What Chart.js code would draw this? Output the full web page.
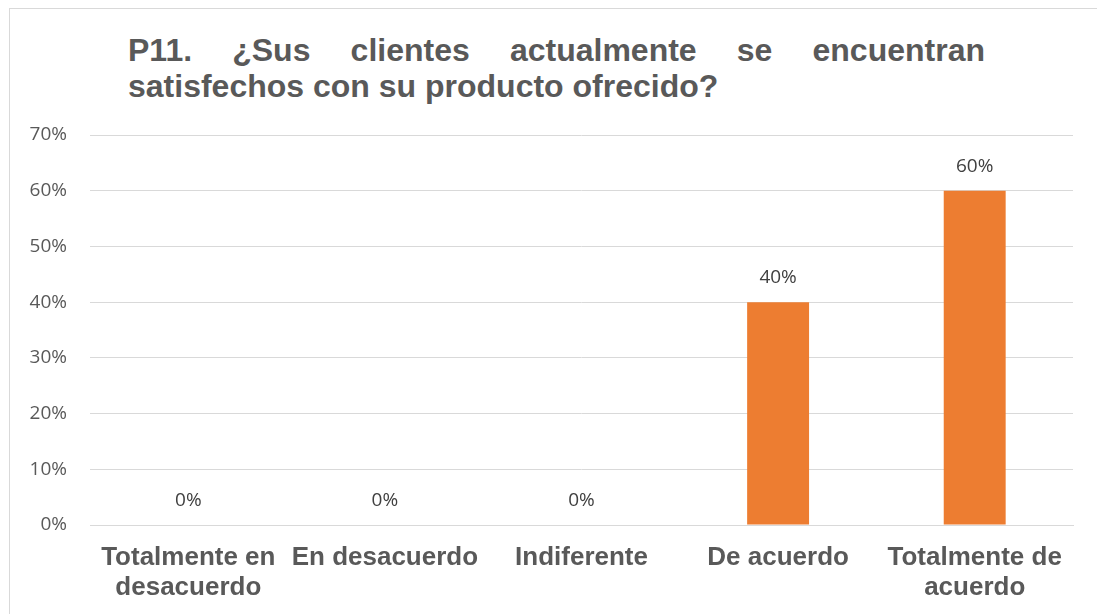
<!DOCTYPE html>
<html>
<head>
<meta charset="utf-8">
<script src="https://cdn.jsdelivr.net/npm/chart.js@4"></script>
<style>
  html, body { margin: 0; padding: 0; background: #fff; }
  #wrap { position: relative; width: 1097px; height: 614px; overflow: hidden; }
  #frame { position: absolute; left: 9px; top: 8px; width: 1200px; height: 700px; border: 1px solid #d9d9d9; box-sizing: border-box; }
  #title {
    position: absolute; left: 128px; top: 32px; width: 857px;
    font: bold 32px "Liberation Sans", Arial, sans-serif; line-height: 36px;
    color: #595959; text-align: justify; text-align-last: left;
  }
  canvas { position: absolute; left: 0; top: 0; }
</style>
</head>
<body>
<div id="wrap">
  <div id="frame"></div>
  <div id="title">P11. ¿Sus clientes actualmente se encuentran satisfechos con su producto ofrecido?</div>
  <canvas id="chart" width="1097" height="614"></canvas>
</div>
<script>
// Data
const categories = [
  ['Totalmente en', 'desacuerdo'],
  'En desacuerdo',
  'Indiferente',
  'De acuerdo',
  ['Totalmente de', 'acuerdo']
];
const values = [0, 0, 0, 40, 60];
const yTicks = [0, 10, 20, 30, 40, 50, 60, 70];

// Percent label above each bar
const valueLabels = {
  id: 'valueLabels',
  afterDatasetsDraw(chart) {
    const ctx = chart.ctx;
    const meta = chart.getDatasetMeta(0);
    ctx.save();
    ctx.font = '19px "Open Sans", sans-serif';
    ctx.fillStyle = '#404040';
    ctx.textAlign = 'center';
    ctx.textBaseline = 'alphabetic';
    meta.data.forEach((bar, i) => {
      ctx.fillText(values[i] + '%', bar.x, bar.y - 19);
    });
    ctx.restore();
  }
};

new Chart(document.getElementById('chart'), {
  type: 'bar',
  data: {
    labels: categories,
    datasets: [{
      data: values,
      backgroundColor: '#ED7D31',
      categoryPercentage: 1,
      barPercentage: 0.315
    }]
  },
  options: {
    responsive: false,
    animation: false,
    layout: { padding: { top: 135, right: 24, bottom: 0, left: 0 } },
    plugins: {
      legend: { display: false },
      tooltip: { enabled: false }
    },
    scales: {
      x: {
        grid: { display: false, drawTicks: false },
        border: { display: true, color: '#d9d9d9', width: 1 },
        ticks: {
          color: '#595959',
          font: { family: '"Liberation Sans", Arial, sans-serif', size: 26, weight: 'bold', lineHeight: 1.15 },
          padding: 18,
          maxRotation: 0,
          autoSkip: false
        },
        afterFit(scale) { scale.height = 614 - 525; }
      },
      y: {
        min: 0,
        max: 70,
        afterBuildTicks(scale) { scale.ticks = yTicks.map(v => ({ value: v })); },
        grid: { color: '#d9d9d9', lineWidth: 1, drawTicks: false },
        border: { display: false },
        ticks: {
          color: '#595959',
          font: { family: '"Open Sans", sans-serif', size: 19 },
          padding: 23,
          callback: v => v + '%'
        },
        afterFit(scale) { scale.width = 90; }
      }
    }
  },
  plugins: [valueLabels]
});
</script>
</body>
</html>
